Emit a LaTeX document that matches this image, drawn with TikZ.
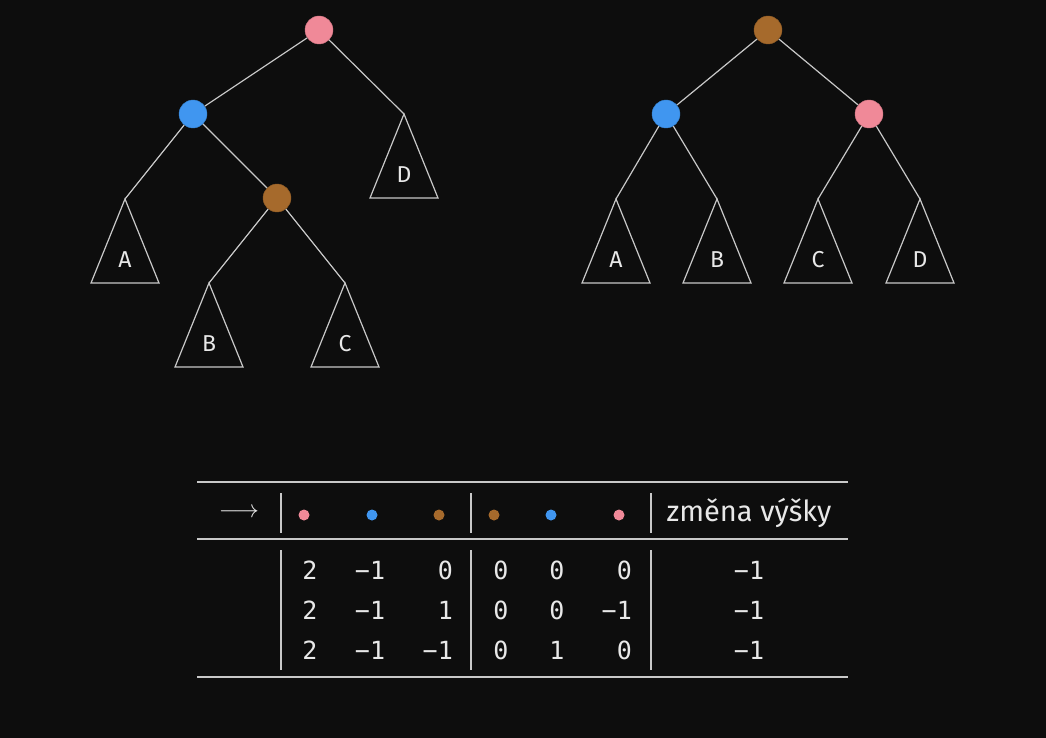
\documentclass[tikz,border=0pt]{standalone}
\usepackage{fontspec}
\setmainfont{Fira Sans}
\setmonofont{DejaVu Sans Mono}
\usetikzlibrary{positioning}
\definecolor{pozadi}{RGB}{13,13,13}
\definecolor{cara}{RGB}{200,200,200}
\definecolor{pismo}{RGB}{232,232,232}
\definecolor{rosa}{RGB}{240,137,152}
\definecolor{modra}{RGB}{64,150,240}
\definecolor{hneda}{RGB}{166,106,44}

\begin{document}
\begin{tikzpicture}[x=1pt,y=-1pt]
\tikzset{vrchol/.style={circle,minimum size=28pt,inner sep=0pt,draw=#1!85!black,fill=#1},
  hrana/.style={draw=cara,line width=1.2pt},
  popis/.style={text=pismo,font=\fontsize{23}{26}\selectfont,inner sep=0pt},
  tecka/.style={circle,minimum size=11pt,inner sep=0pt,fill=#1},
  linka/.style={draw=cara,line width=2.2pt},
  svisla/.style={draw=cara,line width=1.2pt},
  cislo/.style={text=pismo,font=\ttfamily\fontsize{25}{28}\selectfont,inner sep=0pt}}
\fill[pozadi] (0,0) rectangle (1046,738);
% podstromy
\foreach \n/\x/\y/\t in {lA/125/199/A,lB/209/283/B,lC/345/283/C,lD/404/114/D,
    rA/616/199/A,rB/717/199/B,rC/818/199/C,rD/920/199/D}{
  \coordinate (\n) at (\x,\y);
  \draw[hrana,line join=miter] (\n) -- ++(34,84) -- ++(-68,0) -- cycle;
  \node[popis] (\n-t) at (\x,\y+61) {\t};
}
% levy strom
\node[vrchol=rosa] (l1) at (319,30) {};
\node[vrchol=modra] (l2) at (193,114) {};
\node[vrchol=hneda] (l3) at (277,198) {};
\draw[hrana] (l1)--(l2);\draw[hrana] (l1)--(lD);
\draw[hrana] (l2)--(lA);\draw[hrana] (l2)--(l3);
\draw[hrana] (l3)--(lB);\draw[hrana] (l3)--(lC);
% pravy strom
\node[vrchol=hneda] (r1) at (768,30) {};
\node[vrchol=modra] (r2) at (666,114) {};
\node[vrchol=rosa] (r3) at (869,114) {};
\draw[hrana] (r1)--(r2);\draw[hrana] (r1)--(r3);
\draw[hrana] (r2)--(rA);\draw[hrana] (r2)--(rB);
\draw[hrana] (r3)--(rC);\draw[hrana] (r3)--(rD);
% tabulka
\draw[linka] (197,482) -- (848,482);
\draw[linka] (197,539) -- (848,539);
\draw[linka] (197,677) -- (848,677);
\foreach \x in {281,471,651}{
  \draw[svisla] (\x,493) -- (\x,533);
  \draw[svisla] (\x,550) -- (\x,670);
}
\node[text=pismo,inner sep=0pt,font=\fontsize{25}{28}\selectfont] (sipka) at (239,513) {$\longrightarrow$};
\foreach \x/\c [count=\i] in {304/rosa,372/modra,439/hneda,494/hneda,551/modra,619/rosa}
  \node[tecka=\c] (d\i) at (\x,515) {};
\node[text=pismo,inner sep=0pt,font=\fontsize{29}{32}\selectfont] (zmena) at (749,513) {změna výšky};
\foreach \y/\a/\b/\c/\d/\e/\f [count=\r] in {570/2/−1/0/0/0/0,610/2/−1/1/0/0/−1,650/2/−1/−1/0/1/0}{
  \node[cislo] (a\r) at (310,\y) {\a};
  \node[cislo] (b\r) at (370,\y) {\b};
  \node[cislo,anchor=east] (c\r) at (453,\y) {\c};
  \node[cislo] (e\r) at (501,\y) {\d};
  \node[cislo] (g\r) at (557,\y) {\e};
  \node[cislo,anchor=east] (h\r) at (632,\y) {\f};
  \node[cislo] (v\r) at (749,\y) {−1};
}
\end{tikzpicture}
\end{document}
